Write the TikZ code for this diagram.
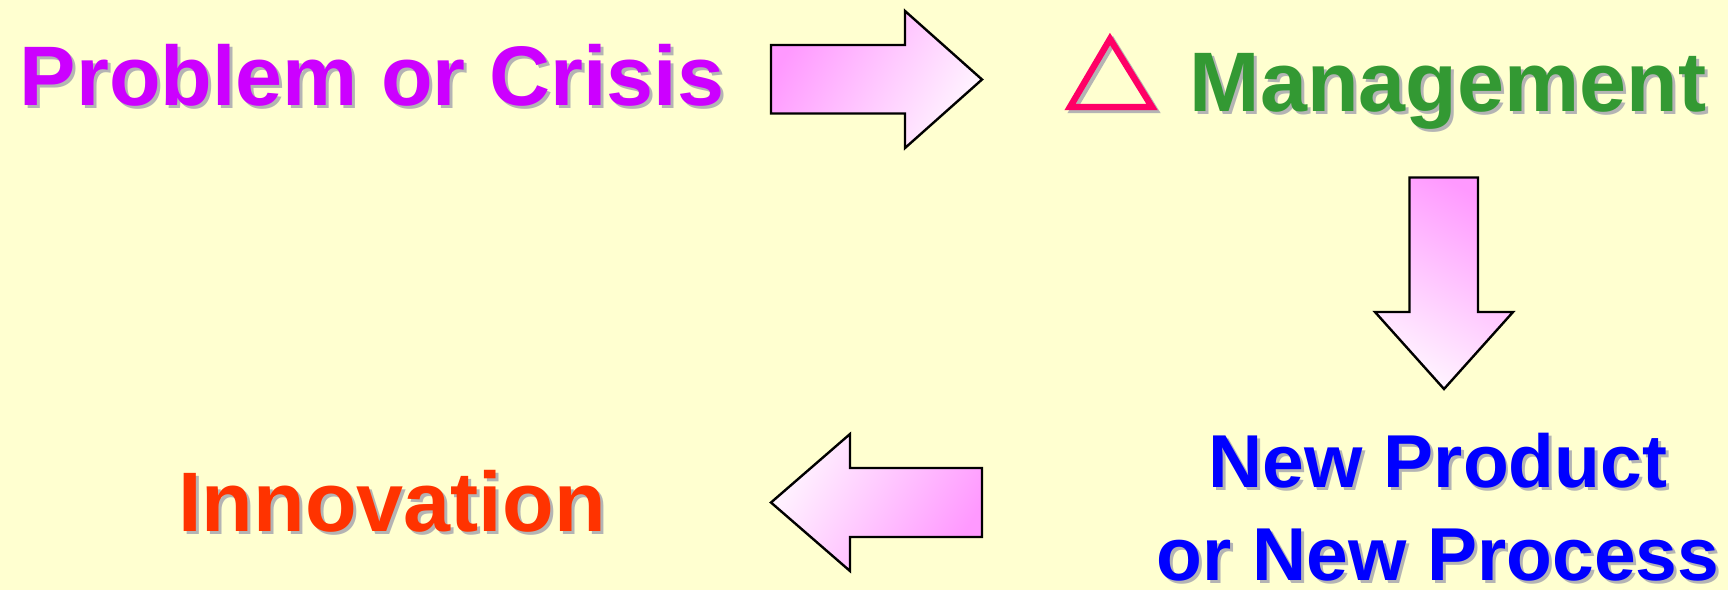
\documentclass[tikz,border=0pt]{standalone}
\usepackage{fontspec}
\setmainfont{Liberation Sans}
\definecolor{bgyellow}{HTML}{FFFFD0}
\definecolor{shadowgray}{HTML}{B4B4B4}
\definecolor{probcol}{HTML}{CC00FF}
\definecolor{mgmtcol}{HTML}{339933}
\definecolor{prodcol}{HTML}{0000FF}
\definecolor{innocol}{HTML}{FF3300}
\definecolor{tricol}{HTML}{FF0066}
\definecolor{pinkdark}{HTML}{FF99FF}
\definecolor{pinklight}{HTML}{FFF4FF}
\begin{document}
\begin{tikzpicture}[x=0.5pt,y=-0.5pt,
  lbl/.style={font=\fontsize{42.25}{50}\selectfont\bfseries, inner sep=0pt, anchor=base},
  lblsmall/.style={font=\fontsize{37.5}{46.5}\selectfont\bfseries, inner sep=0pt, anchor=base, align=center},
  blockarrow/.style={draw=black, line width=1.2pt, line join=miter},
  tri/.style={line width=3.2pt, line join=miter},
]
\fill[bgyellow] (0,0) rectangle (1728,590);
\useasboundingbox (0,0) rectangle (1728,590);

% texts with shadows
\node[lbl, text=shadowgray] (problem-sh) at (375,108) {Problem or Crisis};
\node[lbl, text=probcol] (problem) at (372,105) {Problem or Crisis};

\node[lbl, text=shadowgray] (mgmt-sh) at (1451,114) {Management};
\node[lbl, text=mgmtcol] (mgmt) at (1448,111) {Management};

\node[lblsmall, text=shadowgray] (newprod-sh) at (1441,583) {New Product\\or New Process};
\node[lblsmall, text=prodcol] (newprod) at (1438,580) {New Product\\or New Process};

\node[lbl, text=shadowgray] (innov-sh) at (395,534) {Innovation};
\node[lbl, text=innocol] (innov) at (392,531) {Innovation};

% delta triangle
\draw[tri, shadowgray] (1113,42) -- (1155,110) -- (1073,110) -- cycle;
\draw[tri, tricol] (1110,39) -- (1152,107) -- (1070,107) -- cycle;

% block arrows
\draw[blockarrow, top color=pinkdark, bottom color=pinklight, shading angle=60]
  (771,45) -- (905,45) -- (905,11) -- (982,79.5) -- (905,148) -- (905,113.5) -- (771,113.5) -- cycle;
\draw[blockarrow, top color=pinkdark, bottom color=pinklight, shading angle=-30]
  (1409.5,177.5) -- (1478,177.5) -- (1478,312) -- (1513,312) -- (1444,389) -- (1375,312) -- (1409.5,312) -- cycle;
\draw[blockarrow, top color=pinklight, bottom color=pinkdark, shading angle=60]
  (982,468) -- (850,468) -- (850,434) -- (771,502.5) -- (850,571) -- (850,537) -- (982,537) -- cycle;
\end{tikzpicture}
\end{document}
